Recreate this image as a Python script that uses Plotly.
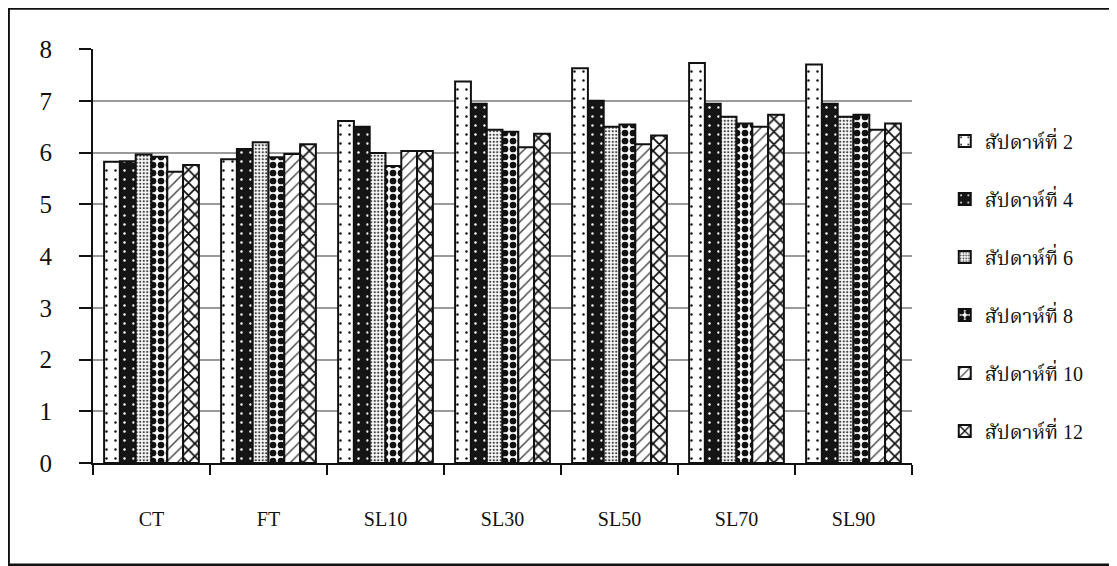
import plotly.graph_objects as go

categories = ["CT", "FT", "SL10", "SL30", "SL50", "SL70", "SL90"]
series_names = ["สัปดาห์ที่ 2", "สัปดาห์ที่ 4", "สัปดาห์ที่ 6",
                "สัปดาห์ที่ 8", "สัปดาห์ที่ 10", "สัปดาห์ที่ 12"]
week2 = [5.82, 5.87, 6.61, 7.37, 7.63, 7.73, 7.70]
week4 = [5.83, 6.07, 6.50, 6.94, 7.00, 6.94, 6.94]
week6 = [5.96, 6.20, 5.99, 6.44, 6.50, 6.69, 6.69]
week8 = [5.92, 5.91, 5.74, 6.40, 6.54, 6.56, 6.73]
week10 = [5.63, 5.97, 6.03, 6.10, 6.16, 6.50, 6.44]
week12 = [5.76, 6.16, 6.03, 6.36, 6.33, 6.73, 6.56]
series_values = [week2, week4, week6, week8, week10, week12]
y_ticks = [0, 1, 2, 3, 4, 5, 6, 7, 8]

patterns = [
    dict(shape=".", fgcolor="#111111", bgcolor="white", size=9, solidity=0.06, fillmode="replace"),
    dict(shape=".", fgcolor="white", bgcolor="#151515", size=9, solidity=0.06, fillmode="replace"),
    dict(shape=".", fgcolor="#444444", bgcolor="white", size=3.5, solidity=0.35, fillmode="replace"),
    dict(shape=".", fgcolor="#111111", bgcolor="white", size=8, solidity=0.55, fillmode="replace"),
    dict(shape="/", fgcolor="#444444", bgcolor="white", size=8, solidity=0.18, fillmode="replace"),
    dict(shape="x", fgcolor="#111111", bgcolor="white", size=9, solidity=0.35, fillmode="replace"),
]
base_colors = ["white", "#151515", "white", "white", "white", "white"]

SERIF = "Liberation Serif, Times New Roman, Noto Serif Thai, Noto Sans Thai, serif"

fig = go.Figure()
for name, vals, pat, col in zip(series_names, series_values, patterns, base_colors):
    fig.add_trace(go.Bar(
        x=categories, y=vals, name=name, legendgroup=name,
        marker=dict(color=col, pattern=pat, line=dict(color="#111111", width=2)),
    ))

fig.update_layout(
    width=1117, height=566,
    margin=dict(l=85, r=213, t=41, b=111),
    paper_bgcolor="white", plot_bgcolor="white",
    barmode="group", bargap=0.19, bargroupgap=0,
    font=dict(family=SERIF, color="#111111"),
    showlegend=True,
    legend=dict(x=1.040, y=0.825, xanchor="left", yanchor="top",
                font=dict(size=20, family=SERIF), tracegroupgap=29,
                bgcolor="rgba(0,0,0,0)"),
    shapes=[dict(type="rect", xref="paper", yref="paper",
                 x0=-0.103, x1=1.30, y0=-0.246, y1=1.098,
                 line=dict(color="#111111", width=2.5), fillcolor="rgba(0,0,0,0)",
                 layer="below")],
)
fig.update_xaxes(
    showline=True, linecolor="#111111", linewidth=2,
    ticks="outside", tickson="boundaries", ticklen=10, tickwidth=1.5, tickcolor="#111111",
    tickfont=dict(size=20, family=SERIF), ticklabelstandoff=37,
    showgrid=False,
)
fig.update_yaxes(
    range=[0, 8], tickvals=y_ticks,
    showline=True, linecolor="#111111", linewidth=2,
    ticks="outside", ticklen=12, tickwidth=1.5, tickcolor="#111111",
    tickfont=dict(size=25, family=SERIF), ticklabelstandoff=22,
    showgrid=True, gridcolor="#9a9a9a", gridwidth=1.5,
    zeroline=False,
)
fig.write_html("out.html")
